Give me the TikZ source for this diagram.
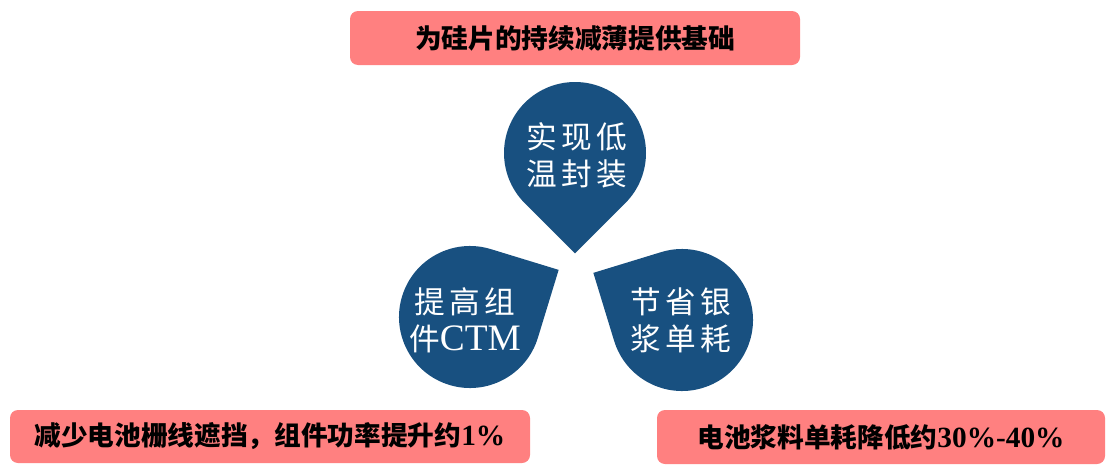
\documentclass[tikz,border=0pt]{standalone}
\usepackage{fontspec}
\setmainfont{Liberation Serif}
\newfontfamily\cjk{Noto Sans CJK SC}
\newfontfamily\cjkls{Noto Sans CJK SC}[LetterSpace=14]
\definecolor{boxred}{RGB}{255,128,128}
\definecolor{dropblue}{RGB}{24,80,128}
\newcommand\mydrop[2]{%
  \begin{scope}[shift={#1}]
    \fill[dropblue] (#2+45:71) arc[start angle=#2+45, end angle=#2+315, radius=71] -- (#2:100.4) -- cycle;
  \end{scope}}
\begin{document}
\begin{tikzpicture}[x=0.75pt,y=-0.75pt,
  redbox/.style={fill=boxred, rounded corners=6pt, inner sep=0pt, text=black,
    font=\fontsize{20}{24}\selectfont\bfseries},
  droptext/.style={text=white, align=center, font=\fontsize{23}{28}\selectfont}]
\useasboundingbox (0,0) rectangle (1108,468);
\fill[white] (0,0) rectangle (1108,468);

\node[redbox, minimum width=337.5pt, minimum height=40.5pt] (top) at (575,38) {\cjk 为硅片的持续减薄提供基础};
\node[redbox, minimum width=390pt, minimum height=39.75pt] (bl) at (270,436.5) {\cjk 减少电池栅线遮挡，组件功率提升约\normalfont\fontsize{22}{24}\selectfont\bfseries 1\%};
\node[redbox, minimum width=336pt, minimum height=40.5pt] (br) at (881,437) {\cjk 电池浆料单耗降低约\normalfont\fontsize{22}{24}\selectfont\bfseries 30\%-40\%};

\mydrop{(575,153)}{90}
\mydrop{(470,317)}{-28}
\mydrop{(682,320)}{208}

\node[droptext] (t1) at (577,155) {\cjkls 实现低\\\cjkls 温封装};
\node[droptext] (t2) at (465,320) {\cjkls 提高组\\\cjk 件\normalfont\fontsize{28}{28}\selectfont CTM};
\node[droptext] (t3) at (681,320) {\cjkls 节省银\\\cjkls 浆单耗};
\end{tikzpicture}
\end{document}
